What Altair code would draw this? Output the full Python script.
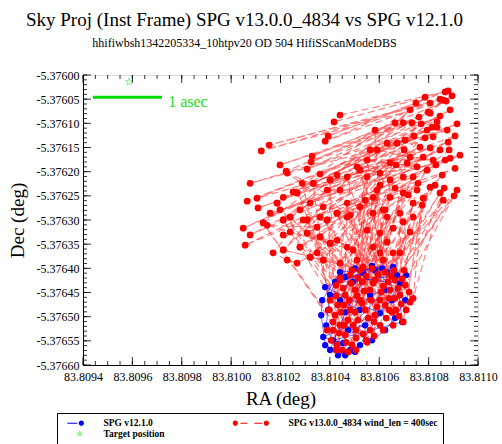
import altair as alt
import numpy as np
import pandas as pd

# ---------------- data ----------------
hub_ra = [83.810879, 83.810867, 83.810749, 83.810806, 83.810846, 83.810871, 83.810664, 83.810733,
          83.810761, 83.810798, 83.810846, 83.810915, 83.810875, 83.810834, 83.810794, 83.810879,
          83.810806, 83.810765, 83.810846, 83.810927, 83.810887, 83.810713, 83.810672, 83.810644,
          83.810794, 83.810855, 83.810737, 83.810826, 83.810915, 83.810903, 83.810863, 83.810778,
          83.810774, 83.810737, 83.810697, 83.810725, 83.810656, 83.810632, 83.810656, 83.810684,
          83.810603, 83.810563, 83.810603, 83.810543, 83.810624, 83.810482, 83.810583, 83.810522]
hub_dec = [-5.376033, -5.376035, -5.376058, -5.376058, -5.376050, -5.376054, -5.376099, -5.376099,
           -5.376087, -5.376077, -5.376085, -5.376101, -5.376114, -5.376108, -5.376114, -5.376139,
           -5.376151, -5.376149, -5.376155, -5.376166, -5.376172, -5.376182, -5.376141, -5.376182,
           -5.376197, -5.376207, -5.376211, -5.376228, -5.376238, -5.376250, -5.376234, -5.376255,
           -5.376269, -5.376265, -5.376304, -5.376325, -5.376317, -5.376346, -5.376368, -5.376368,
           -5.376368, -5.376155, -5.376228, -5.376259, -5.376279, -5.376290, -5.376114, -5.376197]

hub2_ra = [83.810895, 83.810786, 83.810725, 83.810770, 83.810887, 83.810907, 83.810867, 83.810907,
           83.810778, 83.810814, 83.810741, 83.810701, 83.810668, 83.810757, 83.810830, 83.810883,
           83.810717, 83.810664, 83.810705]
hub2_dec = [-5.376043, -5.376046, -5.376072, -5.376101, -5.376072, -5.376126, -5.376176, -5.376193,
            -5.376170, -5.376108, -5.376126, -5.376155, -5.376186, -5.376224, -5.376186, -5.376155,
            -5.376248, -5.376234, -5.376135]

mid_ra = [83.810441, 83.810417, 83.810393, 83.810381, 83.810154, 83.810122, 83.810328, 83.810324,
          83.810198, 83.810223, 83.810308, 83.810360, 83.810429, 83.810077, 83.810065, 83.810105,
          83.810109, 83.810049, 83.810077, 83.810057, 83.810158, 83.810198, 83.810211, 83.810251,
          83.810288, 83.810227, 83.810389, 83.810441, 83.810279, 83.810320, 83.810373, 83.810211,
          83.810239, 83.810170, 83.810227, 83.810267, 83.810348, 83.810429, 83.810494, 83.810146,
          83.810348, 83.810292]
mid_dec = [-5.376083, -5.376097, -5.376126, -5.376137, -5.376145, -5.376157, -5.376168, -5.376180,
           -5.376186, -5.376199, -5.376195, -5.376205, -5.376207, -5.376224, -5.376261, -5.376255,
           -5.376275, -5.376317, -5.376331, -5.376352, -5.376286, -5.376279, -5.376253, -5.376242,
           -5.376224, -5.376203, -5.376238, -5.376238, -5.376279, -5.376265, -5.376273, -5.376331,
           -5.376325, -5.376368, -5.376383, -5.376389, -5.376368, -5.376342, -5.376362, -5.376311,
           -5.376315, -5.376300]

up2_ra = [83.810859, 83.810806, 83.810834, 83.810818, 83.810786, 83.810725, 83.810697, 83.810632,
          83.810591, 83.810551, 83.810510, 83.810470, 83.810401, 83.810332, 83.810267, 83.810186,
          83.810753, 83.810818, 83.810697, 83.810644, 83.810603, 83.810591, 83.810644, 83.810697,
          83.810753, 83.810806, 83.810846, 83.810737, 83.810684, 83.810632, 83.810575, 83.810522,
          83.810470, 83.810429, 83.810389, 83.810308, 83.810211, 83.810130, 83.810859, 83.810239,
          83.810360, 83.810470, 83.810308, 83.810360, 83.810401, 83.810470, 83.810279, 83.810211,
          83.810320, 83.810373, 83.810441, 83.810510, 83.810535, 83.810551, 83.810575, 83.810616,
          83.810551, 83.810603, 83.810575, 83.810616]
up2_dec = [-5.376052, -5.376079, -5.376097, -5.376128, -5.376130, -5.376170, -5.376099, -5.376141,
           -5.376155, -5.376176, -5.376190, -5.376211, -5.376217, -5.376224, -5.376244, -5.376265,
           -5.376190, -5.376176, -5.376211, -5.376217, -5.376203, -5.376238, -5.376253, -5.376244,
           -5.376238, -5.376232, -5.376244, -5.376294, -5.376286, -5.376294, -5.376286, -5.376273,
           -5.376265, -5.376286, -5.376300, -5.376300, -5.376300, -5.376306, -5.376259, -5.376294,
           -5.376294, -5.376294, -5.376327, -5.376335, -5.376348, -5.376356, -5.376356, -5.376362,
           -5.376377, -5.376383, -5.376389, -5.376383, -5.376397, -5.376211, -5.376253, -5.376279,
           -5.376321, -5.376327, -5.376356, -5.376383]

low_ra = [83.810441, 83.810482, 83.810522, 83.810571, 83.810624, 83.810664, 83.810705, 83.810737,
          83.810697, 83.810652, 83.810603, 83.810563, 83.810502, 83.810462, 83.810433, 83.810421,
          83.810441, 83.810429, 83.810490, 83.810462, 83.810514, 83.810543, 83.810583, 83.810624,
          83.810664, 83.810522, 83.810482, 83.810474, 83.810563, 83.810603, 83.810644, 83.810684,
          83.810450, 83.810413, 83.810531, 83.810583, 83.810636, 83.810506, 83.810547, 83.810401]
low_dec = [-5.376424, -5.376414, -5.376404, -5.376400, -5.376408, -5.376424, -5.376435, -5.376462,
           -5.376511, -5.376491, -5.376466, -5.376445, -5.376445, -5.376455, -5.376476, -5.376497,
           -5.376518, -5.376559, -5.376559, -5.376538, -5.376507, -5.376486, -5.376497, -5.376476,
           -5.376462, -5.376466, -5.376486, -5.376507, -5.376528, -5.376518, -5.376445, -5.376455,
           -5.376569, -5.376528, -5.376428, -5.376424, -5.376428, -5.376528, -5.376549, -5.376466]

low2_ra = [83.810425, 83.810454, 83.810486, 83.810514, 83.810547, 83.810595, 83.810648, 83.810693,
           83.810721, 83.810676, 83.810616, 83.810575, 83.810539, 83.810478, 83.810445, 83.810413,
           83.810437, 83.810466, 83.810506, 83.810535, 83.810579, 83.810628, 83.810668, 83.810709,
           83.810725, 83.810689, 83.810640, 83.810591, 83.810555, 83.810502, 83.810458, 83.810405,
           83.810474, 83.810425, 83.810494, 83.810531, 83.810567, 83.810608, 83.810490, 83.810660,
           83.810701, 83.810397, 83.810425, 83.810579, 83.810656, 83.810551, 83.810389, 83.810510,
           83.810640, 83.810680, 83.810616, 83.810441, 83.810458, 83.810506]
low2_dec = [-5.376435, -5.376441, -5.376431, -5.376420, -5.376416, -5.376412, -5.376416, -5.376422,
            -5.376449, -5.376441, -5.376437, -5.376431, -5.376447, -5.376466, -5.376491, -5.376511,
            -5.376534, -5.376553, -5.376544, -5.376536, -5.376511, -5.376503, -5.376486, -5.376486,
            -5.376470, -5.376474, -5.376462, -5.376480, -5.376503, -5.376491, -5.376476, -5.376549,
            -5.376573, -5.376457, -5.376518, -5.376472, -5.376466, -5.376449, -5.376404, -5.376404,
            -5.376404, -5.376486, -5.376569, -5.376540, -5.376518, -5.376553, -5.376528, -5.376457,
            -5.376486, -5.376499, -5.376528, -5.376420, -5.376518, -5.376569]

blue_ra = [83.810656, 83.810632, 83.810684, 83.810462, 83.810535, 83.810381, 83.810603, 83.810373,
           83.810454, 83.810413, 83.810693, 83.810672, 83.810494, 83.810421, 83.810401, 83.810393,
           83.810385, 83.810433, 83.810482, 83.810522, 83.810571, 83.810624, 83.810664, 83.810705,
           83.810583, 83.810502, 83.810441, 83.810522, 83.810563, 83.810624, 83.810474, 83.810543,
           83.810652, 83.810401, 83.810462, 83.810571, 83.810612, 83.810441, 83.810369, 83.810365,
           83.810381, 83.810462, 83.810502, 83.810709]
blue_dec = [-5.376397, -5.376408, -5.376431, -5.376418, -5.376410, -5.376439, -5.376493, -5.376542,
            -5.376555, -5.376549, -5.376511, -5.376414, -5.376428, -5.376428, -5.376455, -5.376486,
            -5.376518, -5.376580, -5.376569, -5.376559, -5.376549, -5.376528, -5.376503, -5.376466,
            -5.376404, -5.376400, -5.376466, -5.376486, -5.376455, -5.376445, -5.376528, -5.376518,
            -5.376466, -5.376569, -5.376491, -5.376395, -5.376400, -5.376408, -5.376466, -5.376497,
            -5.376559, -5.376580, -5.376573, -5.376414]

target_ra = [83.809587]
target_dec = [-5.376014]

bar_ra = [83.80944]
bar_ra2 = [83.80972]
bar_dec = [-5.376046]
bar_label = ["1 asec"]
bar_label_ra = [83.809745]
bar_label_dec = [-5.376056]

x_ticks = [83.8094, 83.8096, 83.8098, 83.8100, 83.8102, 83.8104, 83.8106, 83.8108, 83.8110]
y_ticks = [-5.37660, -5.37655, -5.37650, -5.37645, -5.37640, -5.37635, -5.37630,
           -5.37625, -5.37620, -5.37615, -5.37610, -5.37605, -5.37600]

blue_name = "SPG v12.1.0"
red_name = "SPG v13.0.0_4834 wind_len = 400sec"
target_name = "Target position"

# ---------------- tables ----------------
def interleave(a, b):
    out = []
    for p, q in zip(a, b):
        out += [p, q]
    return out

hub = list(zip(hub_ra, hub_dec))
mid = list(zip(mid_ra, mid_dec))
low = list(zip(low_ra, low_dec))
low2 = list(zip(low2_ra, low2_dec))
up2 = list(zip(up2_ra, up2_dec))
hub2 = list(zip(hub2_ra, hub2_dec))

track1 = interleave(mid[:24], hub[:24]) + interleave(low[:24], hub[24:]) + low[24:] + mid[24:]
up2_low_first = sorted(up2, key=lambda p: p[1])
n2 = 46
track2 = interleave(low2[:n2], up2_low_first[:n2]) + low2[n2:] + up2_low_first[n2:]
up2_left_first = sorted(up2, key=lambda p: p[0])
track3 = interleave(up2_left_first[:len(hub2)], hub2)

frames = []
for g, tr in enumerate([track1, track2, track3]):
    f = pd.DataFrame(tr, columns=["ra", "dec"])
    f["order"] = range(len(f))
    f["grp"] = g
    frames.append(f)
red_all = pd.concat(frames, ignore_index=True)

blue_df = pd.DataFrame({"ra": blue_ra, "dec": blue_dec, "order": range(len(blue_ra))})
target_df = pd.DataFrame({"ra": target_ra, "dec": target_dec})
bar_df = pd.DataFrame({"ra": bar_ra, "ra2": bar_ra2, "dec": bar_dec})
lab_df = pd.DataFrame({"ra": bar_label_ra, "dec": bar_label_dec, "t": bar_label})
legend_df = pd.DataFrame({"ra": [83.8000] * 3, "dec": [-5.3700] * 3,
                          "series": [blue_name, red_name, target_name]})

x_minor = np.round(np.linspace(x_ticks[0], x_ticks[-1], 33), 6)
y_minor = np.round(np.linspace(y_ticks[0], y_ticks[-1], 61), 6)
xmaj_df = pd.DataFrame({"ra": x_ticks})
xmin_df = pd.DataFrame({"ra": x_minor})
ymaj_df = pd.DataFrame({"dec": y_ticks})
ymin_df = pd.DataFrame({"dec": y_minor})

# ---------------- encodings ----------------
SERIF = "Liberation Serif"
W, H = 395, 290
xs = alt.Scale(domain=[x_ticks[0], x_ticks[-1]], nice=False, zero=False)
ys = alt.Scale(domain=[y_ticks[0], y_ticks[-1]], nice=False, zero=False)
x_axis = alt.Axis(values=x_ticks, format=".4f", ticks=False, grid=False, domainColor="black",
                  labelFont=SERIF, labelFontSize=12, labelColor="black", labelPadding=6,
                  titleFont=SERIF, titleFontSize=19, titleFontWeight="normal", titleColor="black",
                  titlePadding=7, labelFlush=False)
y_axis = alt.Axis(values=y_ticks, ticks=False, grid=False, domainColor="black",
                  labelExpr="replace(format(datum.value, '.5f'), '\u2212', '-')",
                  labelFont=SERIF, labelFontSize=12, labelColor="black", labelPadding=4,
                  titleFont=SERIF, titleFontSize=19, titleFontWeight="normal", titleColor="black",
                  titlePadding=9, labelFlush=False)
X = alt.X("ra:Q", scale=xs, axis=x_axis, title="RA (deg)")
Y = alt.Y("dec:Q", scale=ys, axis=y_axis, title="Dec (deg)")

STAR = "M0,-1L0.22,-0.31L0.95,-0.31L0.36,0.12L0.59,0.81L0,0.38L-0.59,0.81L-0.36,0.12L-0.95,-0.31L-0.22,-0.31Z"
DOT = "M-0.25,0A0.65,0.65,0,1,0,1.05,0A0.65,0.65,0,1,0,-0.25,0Z"
BLUE_SYM = "M-3.1,-0.125H-0.6V0.125H-3.1Z " + DOT
RED_SYM = ("M-8.0,0A0.65,0.65,0,1,0,-6.7,0A0.65,0.65,0,1,0,-8.0,0Z "
           "M-6.1,-0.125H-4.35V0.125H-6.1Z M-2.6,-0.125H-0.6V0.125H-2.6Z " + DOT)

leg = alt.Legend(title=None, orient="none", legendX=-26, legendY=338, direction="horizontal",
                 columns=2, columnPadding=67, rowPadding=0, padding=5, strokeColor="black",
                 fillColor="white", labelFont=SERIF, labelFontSize=9.5, labelFontWeight="bold",
                 labelColor="black", symbolSize=64, symbolOffset=13, labelOffset=19,
                 symbolStrokeWidth=0)

# ---------------- layers ----------------
red_line = alt.Chart(red_all).mark_line(color="#ff2020", strokeWidth=1.1, strokeDash=[7, 4],
                                        opacity=0.6).encode(
    x=X, y=Y, order="order:Q", detail="grp:N")
blue_line = alt.Chart(blue_df).mark_line(color="#0000ff", strokeWidth=0.8,
                                         opacity=0.7).encode(x=X, y=Y, order="order:Q")
blue_pts = alt.Chart(blue_df).mark_circle(color="#0000ff", size=40, opacity=1).encode(x=X, y=Y)
red_pts = alt.Chart(red_all).mark_circle(color="#ff0000", size=46, opacity=1).encode(x=X, y=Y)
target = alt.Chart(target_df).mark_point(shape=STAR, size=64, color="#90ee90", filled=False,
                                         strokeWidth=1, opacity=1).encode(x=X, y=Y)
bar = alt.Chart(bar_df).mark_rule(color="#00dd00", strokeWidth=3).encode(
    x=X, x2="ra2:Q", y=Y)
bar_txt = alt.Chart(lab_df).mark_text(align="left", baseline="middle", font=SERIF, fontSize=16,
                                      color="#22dd22").encode(x=X, y=Y, text="t:N")
legend_layer = alt.Chart(legend_df).mark_point(filled=True, size=64, opacity=1, clip=True,
                                               strokeWidth=0).encode(
    x=X, y=Y,
    color=alt.Color("series:N", legend=leg,
                    scale=alt.Scale(domain=[blue_name, red_name, target_name],
                                    range=["#0000ff", "#ff0000", "#90ee90"])),
    shape=alt.Shape("series:N", legend=leg,
                    scale=alt.Scale(domain=[blue_name, red_name, target_name],
                                    range=[BLUE_SYM, RED_SYM, STAR])))

def tick_layer(df, field, length, side):
    if field == "dec":
        if side == "left":
            return alt.Chart(df).mark_rule(color="black", strokeWidth=0.8).encode(
                y=Y, x=alt.value(0), x2=alt.value(length))
        return alt.Chart(df).mark_rule(color="black", strokeWidth=0.8).encode(
            y=Y, x=alt.value(W - length), x2=alt.value(W))
    if side == "bottom":
        return alt.Chart(df).mark_rule(color="black", strokeWidth=0.8).encode(
            x=X, y=alt.value(H - length), y2=alt.value(H))
    return alt.Chart(df).mark_rule(color="black", strokeWidth=0.8).encode(
        x=X, y=alt.value(0), y2=alt.value(length))

ticks = [tick_layer(ymaj_df, "dec", 8, "left"), tick_layer(ymaj_df, "dec", 8, "right"),
         tick_layer(ymin_df, "dec", 4, "left"), tick_layer(ymin_df, "dec", 4, "right"),
         tick_layer(xmaj_df, "ra", 8, "bottom"), tick_layer(xmaj_df, "ra", 8, "top"),
         tick_layer(xmin_df, "ra", 4, "bottom"), tick_layer(xmin_df, "ra", 4, "top")]

chart = alt.layer(
    red_line, blue_line, blue_pts, red_pts, target, bar, bar_txt, legend_layer, *ticks
).properties(
    width=W, height=H,
    title=alt.Title(text="Sky Proj (Inst Frame) SPG v13.0.0_4834 vs SPG v12.1.0",
                    subtitle="hhifiwbsh1342205334_10htpv20 OD 504 HifiSScanModeDBS",
                    anchor="middle", dx=-36, offset=20, font=SERIF, fontSize=19,
                    fontWeight="normal", color="black", subtitleFont=SERIF,
                    subtitleFontSize=12, subtitleColor="black", subtitlePadding=8),
    autosize=alt.AutoSizeParams(type="none"),
    padding={"left": 83, "top": 75, "right": 24, "bottom": 79},
).configure_view(stroke="black", strokeWidth=1).configure_legend(
    strokeColor="black", fillColor="white", padding=5
).configure(background="white")

chart.save("out.html", embed_options={"renderer": "svg", "actions": False})
